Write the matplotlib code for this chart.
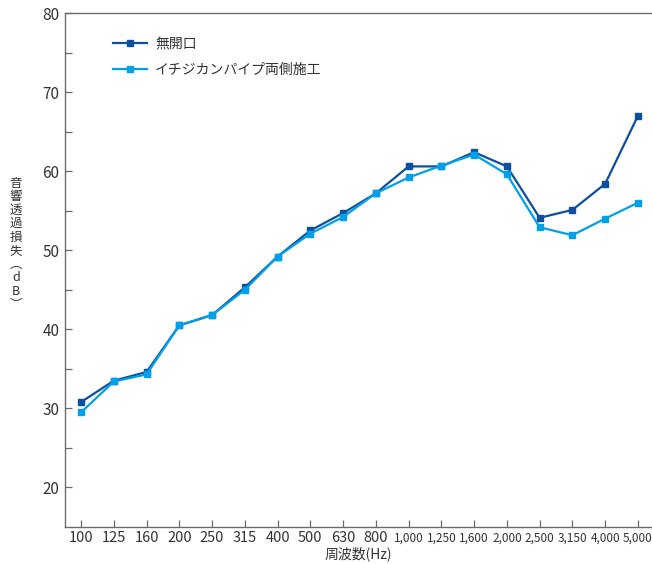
import matplotlib
matplotlib.use("Agg")
import matplotlib.pyplot as plt

plt.rcParams['font.family'] = ['Noto Sans CJK JP', 'DejaVu Sans']

freqs = ["100", "125", "160", "200", "250", "315", "400", "500", "630", "800",
         "1,000", "1,250", "1,600", "2,000", "2,500", "3,150", "4,000", "5,000"]
no_opening = [30.8, 33.5, 34.6, 40.5, 41.8, 45.3, 49.2, 52.5, 54.7, 57.2,
              60.6, 60.6, 62.4, 60.6, 54.1, 55.1, 58.4, 67.0]
pipe_both = [29.5, 33.4, 34.3, 40.5, 41.8, 45.0, 49.2, 52.1, 54.2, 57.2,
             59.2, 60.7, 62.1, 59.6, 52.9, 51.9, 54.0, 56.0]
series_names = ["無開口", "イチジカンパイプ両側施工"]
ylabel = "音響透過損失︵dB︶"
xlabel = "周波数(Hz)"

dark = "#0b4ea2"
light = "#00a0e9"
axis_col = "#6b6b6b"
text_col = "#333333"

fig = plt.figure(figsize=(6.52, 5.64), dpi=100)
ax = fig.add_axes([65 / 652, 1 - 527 / 564, 587 / 652, (527 - 13) / 564])

x = list(range(len(freqs)))
ax.plot(x, no_opening, color=dark, lw=1.6, marker="s", ms=5, mec=dark, mfc=dark,
        label=series_names[0])
ax.plot(x, pipe_both, color=light, lw=1.6, marker="s", ms=5, mec=light, mfc=light,
        label=series_names[1])

ax.set_xlim(-0.49, 17.43)
ax.set_ylim(15, 80)
ax.set_yticks(range(20, 81, 10))
ax.set_yticks(range(25, 80, 10), minor=True)
ax.set_xticks(x)
ax.set_xticklabels(freqs)
# the 4-digit labels are set narrower in the original
for lbl, f in zip(ax.get_xticklabels(), freqs):
    lbl.set_fontsize(8.5 if len(f) > 3 else 10.5)
ax.tick_params(axis="both", which="both", direction="in", length=5, width=0.9,
               color=axis_col, labelcolor=text_col)
ax.tick_params(axis="y", labelsize=11, pad=4)
ax.tick_params(axis="x", pad=3)

for s in ["left", "bottom", "top"]:
    ax.spines[s].set_color(axis_col)
    ax.spines[s].set_linewidth(1.0)
ax.spines["right"].set_visible(False)

ax.set_xlabel(xlabel, fontsize=10, color=text_col, labelpad=1)
fig.text(16 / 652, 1 - 244 / 564, "\n".join(ylabel), fontsize=9, color=text_col,
         ha="center", va="center", linespacing=1.05)

leg = ax.legend(loc="upper left", bbox_to_anchor=(0.06, 0.977), frameon=False,
                fontsize=10, handlelength=2.5, handletextpad=0.55, labelspacing=0.85)
for t in leg.get_texts():
    t.set_color(text_col)

fig.savefig("out.png", dpi=100)
